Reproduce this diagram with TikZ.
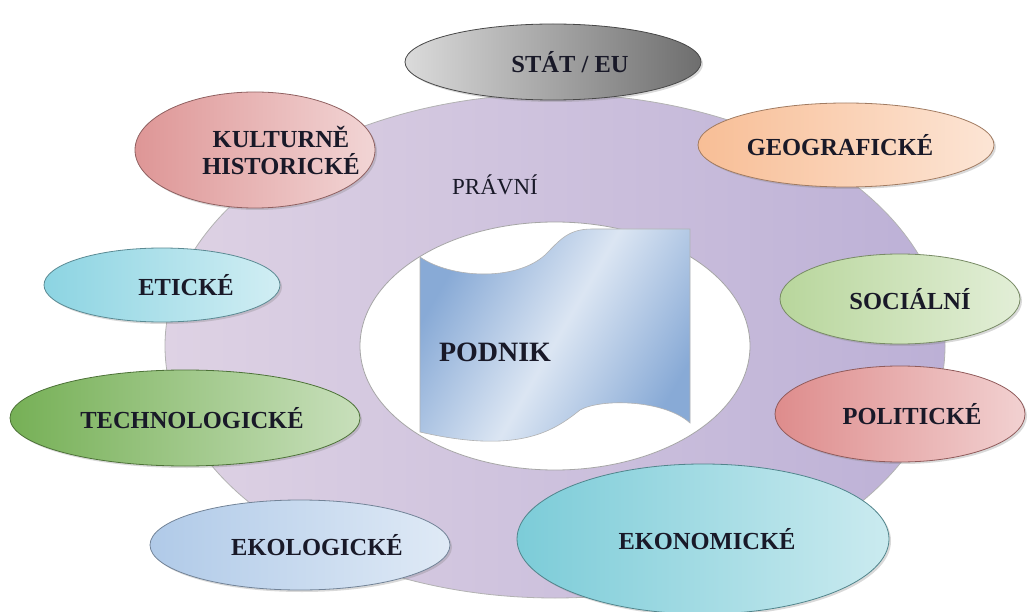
\documentclass[tikz,border=0pt]{standalone}
\usepackage{fontspec}
\setmainfont{Liberation Serif}
\usepackage{xcolor}
\usetikzlibrary{shapes.geometric, shadows}

\definecolor{popisek}{RGB}{25,25,40}
\definecolor{prstenL}{RGB}{222,210,228}
\definecolor{prstenR}{RGB}{188,176,214}
\definecolor{statB}{RGB}{110,110,110}
\definecolor{kulturaB}{RGB}{222,150,150}
\definecolor{geografieB}{RGB}{248,190,150}
\definecolor{etikaB}{RGB}{140,212,226}
\definecolor{socialB}{RGB}{184,214,156}
\definecolor{technologieB}{RGB}{118,176,86}
\definecolor{politikaB}{RGB}{222,140,140}
\definecolor{ekologieB}{RGB}{176,202,232}
\definecolor{ekonomieB}{RGB}{124,204,216}
\definecolor{podnikB}{RGB}{136,170,214}

\begin{document}
\begin{tikzpicture}[x=1pt, y=-1pt,
  faktor/.style={ellipse, inner sep=0pt, draw=#1!65!black, line width=0.8pt,
    left color=#1, right color=#1!40!white,
    drop shadow={shadow xshift=2pt, shadow yshift=-2pt, opacity=0.3}},
  popis/.style={align=center, text=popisek, font=\fontsize{24.5}{27}\selectfont\bfseries}
]
\useasboundingbox (0,0) rectangle (1030,612);

% Prstenec
\draw[draw=gray!60, line width=0.8pt, left color=prstenL, right color=prstenR]
  (555,346) ellipse [x radius=390, y radius=252];
\draw[draw=gray!70, line width=0.8pt, fill=white]
  (555,346) ellipse [x radius=195, y radius=124];
\node[text=popisek, font=\fontsize{23}{26}\selectfont] (pravni) at (495,185) {PRÁVNÍ};

% Podnik
\draw[draw=gray!60, line width=0.6pt, left color=podnikB, right color=podnikB, middle color=podnikB!30!white, shading angle=60]
  (420,257) .. controls (450,278) and (515,282) .. (545,255)
  .. controls (560,240) and (568,229) .. (592,229) -- (690,229) -- (690,423)
  .. controls (665,400) and (602,398) .. (580,410)
  .. controls (555,430) and (520,455) .. (420,432) -- cycle;
\node[popis, font=\fontsize{28}{30}\selectfont\bfseries] (podnik) at (495,352) {PODNIK};

% Faktory
\node[faktor=statB, left color=statB!25!white, right color=statB, minimum width=296pt, minimum height=76pt] (stat) at (553,62) {};
\node[faktor=kulturaB, minimum width=240pt, minimum height=116pt] (kultura) at (255,150) {};
\node[faktor=geografieB, minimum width=296pt, minimum height=84pt] (geografie) at (846,145) {};
\node[faktor=etikaB, minimum width=236pt, minimum height=74pt] (etika) at (162,285) {};
\node[faktor=socialB, minimum width=240pt, minimum height=90pt] (social) at (900,299) {};
\node[faktor=technologieB, minimum width=350pt, minimum height=96pt] (technologie) at (185,418) {};
\node[faktor=politikaB, minimum width=250pt, minimum height=96pt] (politika) at (900,414) {};
\node[faktor=ekologieB, minimum width=300pt, minimum height=90pt] (ekologie) at (300,545) {};
\node[faktor=ekonomieB, minimum width=372pt, minimum height=150pt] (ekonomie) at (703,539) {};

% Popisky
\node[popis] at ([xshift=17pt]stat) {STÁT / EU};
\node[popis] at ([xshift=26pt]kultura) {KULTURNĚ\\HISTORICKÉ};
\node[popis] at ([xshift=-6pt]geografie) {GEOGRAFICKÉ};
\node[popis] at ([xshift=24pt]etika) {ETICKÉ};
\node[popis] at ([xshift=10pt]social) {SOCIÁLNÍ};
\node[popis] at ([xshift=7pt]technologie) {TECHNOLOGICKÉ};
\node[popis] at ([xshift=12pt]politika) {POLITICKÉ};
\node[popis] at ([xshift=17pt]ekologie) {EKOLOGICKÉ};
\node[popis] at ([xshift=4pt]ekonomie) {EKONOMICKÉ};

\end{tikzpicture}
\end{document}
